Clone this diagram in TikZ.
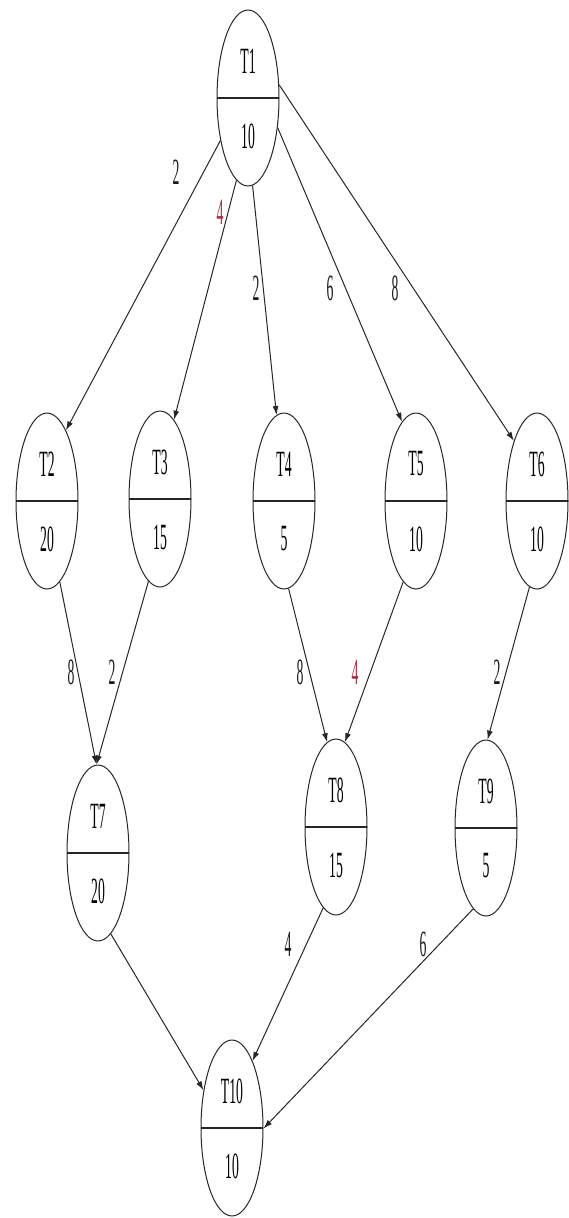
\documentclass[tikz,border=0pt]{standalone}
\usepackage{fontspec}
\setmainfont{Liberation Serif}
\usetikzlibrary{arrows.meta,shapes.geometric}

\newcommand{\nar}[1]{\scalebox{0.37}[1]{#1}}
\definecolor{wtred}{RGB}{165,45,65}

\begin{document}
\begin{tikzpicture}[
  x=1pt, y=-1pt,
  font=\fontsize{37}{40}\selectfont,
  task/.style={
    ellipse,
    draw=black!85,
    line width=1pt,
    minimum width=62pt,
    minimum height=176pt,
    inner sep=0pt,
    path picture={\draw[line width=2pt] (path picture bounding box.west) -- (path picture bounding box.east);}
  },
  namepart/.style={yshift=37pt, inner sep=0pt},
  durpart/.style={yshift=-38pt, inner sep=0pt},
  wt/.style={inner sep=0pt, text=black!90},
  crit/.style={wt, text=wtred},
  dep/.style={-{Latex[length=9pt,width=6pt]}, line width=1pt, draw=black!85}
]
\useasboundingbox (0,0) rectangle (569,1218);

\node[task, label={[namepart]center:\nar{T1}}, label={[durpart]center:\nar{10}}] (T1) at (248,98) {};

\node[task, label={[namepart]center:\nar{T2}}, label={[durpart]center:\nar{20}}] (T2) at (47,501) {};
\node[task, label={[namepart]center:\nar{T3}}, label={[durpart]center:\nar{15}}] (T3) at (160,499) {};
\node[task, label={[namepart]center:\nar{T4}}, label={[durpart]center:\nar{5}}] (T4) at (284,501) {};
\node[task, label={[namepart]center:\nar{T5}}, label={[durpart]center:\nar{10}}] (T5) at (416,501) {};
\node[task, label={[namepart]center:\nar{T6}}, label={[durpart]center:\nar{10}}] (T6) at (537,501) {};

\node[task, label={[namepart]center:\nar{T7}}, label={[durpart]center:\nar{20}}] (T7) at (98,853) {};
\node[task, label={[namepart]center:\nar{T8}}, label={[durpart]center:\nar{15}}] (T8) at (336,827) {};
\node[task, label={[namepart]center:\nar{T9}}, label={[durpart]center:\nar{5}}] (T9) at (486,828) {};

\node[task, label={[namepart]center:\nar{T10}}, label={[durpart]center:\nar{10}}] (T10) at (232,1128) {};

\draw[dep] (T1.237) -- (T2.75);
\draw[dep] (T1.262) -- (T3.80);
\draw[dep] (T1.273) -- (T4.95);
\draw[dep] (T1.315) -- (T5.100);
\draw[dep] (T1.23) -- (T6.111);
\draw[dep] (T2.279) -- (T7.91);
\draw[dep] (T3.262) -- (T7.91);
\draw[dep] (T4.273) -- (T8.96);
\draw[dep] (T5.261) -- (T8.84);
\draw[dep] (T6.265) -- (T9.89);
\draw[dep] (T7.279) -- (T10.127);
\draw[dep] (T8.261) -- (T10.73);
\draw[dep] (T9.261) -- (T10.-1);

\node[wt] (w12) at (176,172) {\nar{2}};
\node[crit] (w13) at (220,212) {\nar{4}};
\node[wt] (w14) at (256,288) {\nar{2}};
\node[wt] (w15) at (330,288) {\nar{6}};
\node[wt] (w16) at (395,288) {\nar{8}};
\node[wt] (w27) at (71,672) {\nar{8}};
\node[wt] (w37) at (112,672) {\nar{2}};
\node[wt] (w48) at (300,672) {\nar{8}};
\node[crit] (w58) at (355,672) {\nar{4}};
\node[wt] (w69) at (497,672) {\nar{2}};
\node[wt] (w810) at (288,944) {\nar{4}};
\node[wt] (w910) at (423,944) {\nar{6}};

\end{tikzpicture}
\end{document}
